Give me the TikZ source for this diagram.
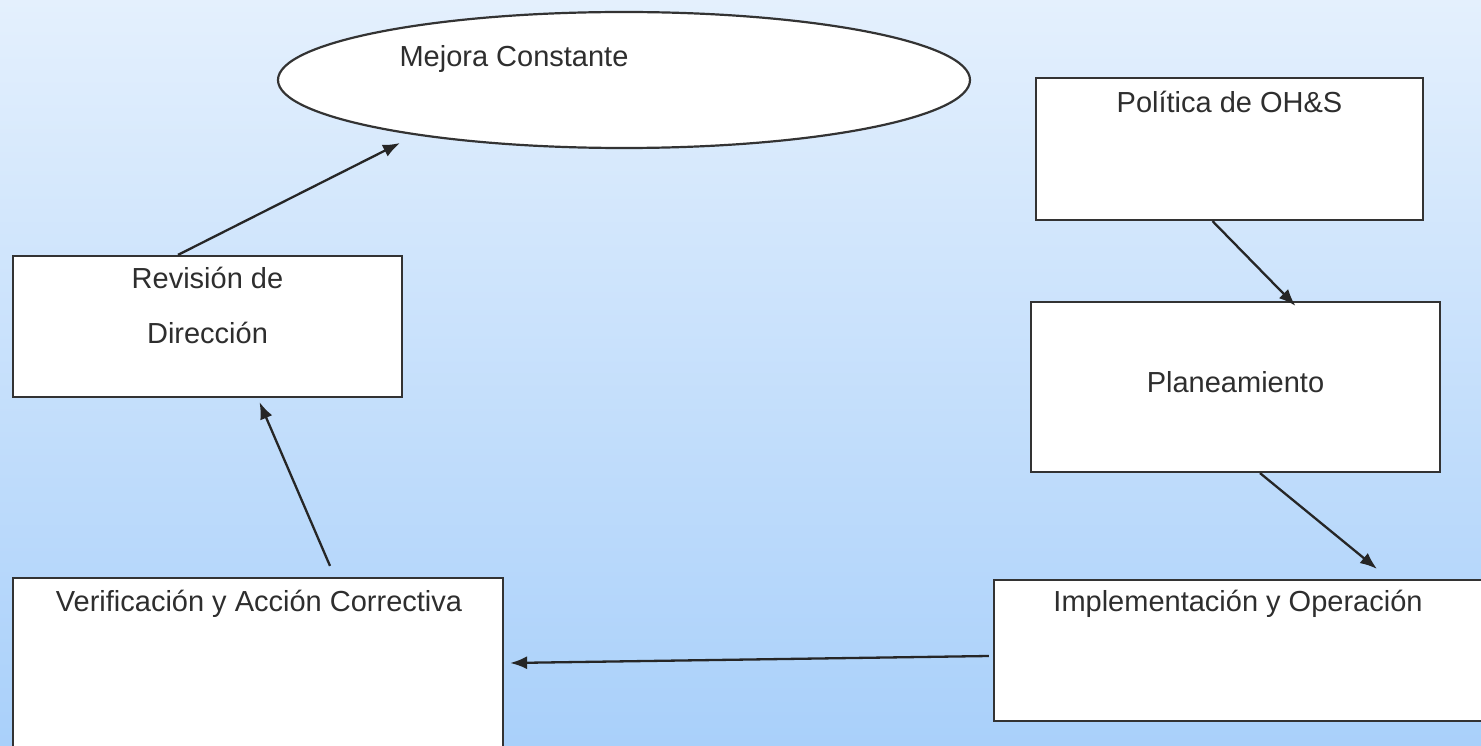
\documentclass[tikz,border=0pt]{standalone}
\usepackage{fontspec}
\setmainfont{Liberation Sans}
\usetikzlibrary{positioning, arrows.meta, calc, shapes.geometric}
\definecolor{fondoarriba}{HTML}{E4F0FD}
\definecolor{fondoabajo}{HTML}{A9D0FA}
\definecolor{texto}{HTML}{2E2E2E}
\definecolor{borde}{HTML}{333333}
\tikzset{
  caja/.style={draw=borde, fill=white, line width=2.2pt, rectangle, inner sep=0pt},
  lbl/.style={text=texto, font=\fontsize{29}{55}\selectfont, inner sep=0pt, anchor=base},
  flecha/.style={-{Latex[length=17pt,width=13pt]}, line width=2.3pt, draw=black!85}
}
\begin{document}
\begin{tikzpicture}[x=1pt, y=-1pt]
  % fondo degradado
  \shade[top color=fondoarriba, bottom color=fondoabajo] (0,0) rectangle (1481,746);
  \useasboundingbox (0,0) rectangle (1481,746);
  \clip (0,0) rectangle (1481,746);

  % cajas
  \node[caja, ellipse, minimum width=692pt, minimum height=136pt] (mejora) at (624,80) {};
  \node[caja, minimum width=387pt, minimum height=142pt] (politica) at (1229.5,149) {};
  \node[caja, minimum width=409pt, minimum height=170pt] (plan) at (1235.5,387) {};
  \node[caja, minimum width=490pt, minimum height=141pt] (impl) at (1239,650.5) {};
  \node[caja, minimum width=490pt, minimum height=204pt] (verif) at (258,680) {};
  \node[caja, minimum width=389pt, minimum height=141pt] (revision) at (207.5,326.5) {};

  % textos
  \node[lbl] (mejoratxt) at ($(mejora.center)+(-110,-13)$) {Mejora Constante};
  \node[lbl] (politicatxt) at ($(politica.north)+(0,36)$) {Política de OH\&S};
  \node[lbl] (plantxt) at ($(plan.center)+(0,5)$) {Planeamiento};
  \node[lbl] (impltxt) at ($(impl.north)+(-1,33)$) {Implementación y Operación};
  \node[lbl] (veriftxt) at ($(verif.north)+(1,35)$) {Verificación y Acción Correctiva};
  \node[lbl] (revtxt) at ($(revision.north)+(0,34)$) {Revisión de};
  \node[lbl] (dirtxt) at ($(revision.north)+(0,89)$) {Dirección};

  % flechas
  \draw[flecha] ($(politica.south)+(-17,0)$) -- ($(plan.north)+(60,5)$);
  \draw[flecha] ($(plan.south)+(24.5,0)$) -- ($(impl.north)+(138,-10)$);
  \draw[flecha] ($(impl.west)+(-4,5.5)$) -- ($(verif.east)+(6,-17)$);
  \draw[flecha] ($(verif.north)+(72,-11)$) -- ($(revision.south)+(52,4)$);
  \draw[flecha] ($(revision.north)+(-29.5,0)$) -- ($(mejora.center)+(-224,63)$);
\end{tikzpicture}
\end{document}
